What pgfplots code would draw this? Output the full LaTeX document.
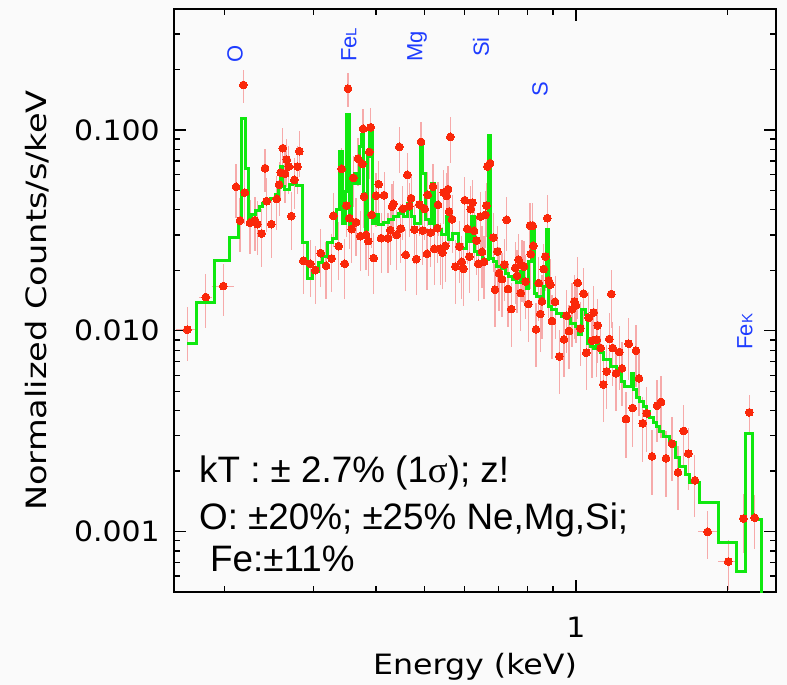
\documentclass[border=0pt]{standalone}
\usepackage{graphicx}
\usepackage{pgfplots}
\usepackage{pgfplotstable}
\pgfplotsset{compat=1.18}
\usepackage{fontspec}
\setmainfont{Liberation Sans}
\newfontfamily\dejavu{DejaVu Sans}
\newfontfamily\libserif{Liberation Serif}
\definecolor{bg}{RGB}{250,250,250}
\definecolor{datared}{RGB}{250,40,10}
\definecolor{errpink}{RGB}{246,170,170}
\definecolor{modelgreen}{RGB}{15,232,15}
\definecolor{lblue}{RGB}{30,60,255}
\newcommand{\tickfont}{\dejavu\fontsize{28pt}{32pt}\selectfont}
\newcommand{\elfont}{\fontsize{22pt}{26pt}\selectfont}
\newcommand{\elsmall}{\fontsize{15pt}{17pt}\selectfont}
\newcommand{\annfont}{\fontsize{36.8pt}{44pt}\selectfont}

\pgfplotstableread{
x y ey ex
0.1685 0.01012 0.30 0.0085
0.1834 0.01471 0.30 0.0055
0.1987 0.01669 0.29 0.0103
0.2178 0.1675 0.19 0
0.2106 0.05205 0.30 0
0.2145 0.03538 0.30 0
0.2192 0.04875 0.30 0
0.2245 0.03446 0.30 0
0.2297 0.03554 0.30 0
0.2322 0.03395 0.30 0
0.2369 0.03049 0.32 0
0.2405 0.06450 0.24 0
0.2424 0.04418 0.30 0
0.2475 0.03395 0.32 0
0.2538 0.04536 0.30 0
0.2565 0.05344 0.30 0
0.2585 0.06133 0.28 0
0.2609 0.08110 0.26 0
0.2636 0.06042 0.28 0
0.2657 0.07115 0.27 0
0.2682 0.06569 0.27 0
0.2714 0.03721 0.32 0
0.2751 0.05639 0.28 0
0.2790 0.06569 0.27 0
0.2815 0.07834 0.26 0
0.2867 0.02230 0.32 0
0.2960 0.02154 0.32 0
0.3029 0.02004 0.32 0
0.3105 0.02435 0.32 0
0.3181 0.02105 0.32 0
0.3265 0.02289 0.32 0
0.3289 0.03734 0.30 0
0.3371 0.02638 0.32 0
0.3418 0.06397 0.27 0
0.3466 0.02154 0.33 0
0.3491 0.04201 0.30 0
0.3518 0.1605 0.19 0
0.3539 0.03637 0.30 0
0.3578 0.03206 0.32 0
0.3605 0.05770 0.28 0
0.3650 0.03474 0.32 0
0.3683 0.07198 0.27 0
0.3722 0.02959 0.33 0
0.3757 0.06774 0.27 0
0.3769 0.1012 0.25 0
0.3786 0.04658 0.30 0
0.3821 0.03003 0.33 0
0.3861 0.02795 0.33 0
0.3879 0.07772 0.27 0
0.3904 0.1031 0.25 0
0.3922 0.03777 0.32 0
0.3958 0.02300 0.34 0
0.4000 0.04711 0.30 0
0.4049 0.05369 0.30 0
0.4093 0.02892 0.33 0
0.4150 0.04733 0.30 0
0.4226 0.02892 0.33 0
0.4271 0.03170 0.33 0
0.4304 0.04153 0.30 0
0.4330 0.04283 0.30 0
0.4398 0.03003 0.33 0
0.4451 0.08230 0.26 0
0.4480 0.03228 0.33 0
0.4521 0.04046 0.30 0
0.4584 0.02388 0.34 0
0.4617 0.05973 0.28 0
0.4660 0.04173 0.30 0
0.4696 0.04573 0.30 0
0.4768 0.03192 0.33 0
0.4811 0.02273 0.34 0
0.4878 0.04250 0.30 0
0.4916 0.08715 0.26 0
0.4955 0.03155 0.33 0
0.5000 0.04046 0.30 0
0.5052 0.02415 0.34 0
0.5068 0.04750 0.30 0
0.5139 0.03084 0.33 0
0.5193 0.05223 0.30 0
0.5224 0.02558 0.34 0
0.5297 0.03243 0.33 0
0.5314 0.04235 0.30 0
0.5380 0.02567 0.34 0
0.5420 0.02452 0.34 0
0.5455 0.04875 0.30 0
0.5495 0.02647 0.34 0
0.5530 0.04695 0.30 0
0.5563 0.05070 0.30 0
0.5589 0.03922 0.31 0
0.5623 0.09230 0.26 0
0.5667 0.03595 0.32 0
0.5753 0.02088 0.35 0
0.5860 0.02626 0.34 0
0.5925 0.02204 0.35 0
0.5969 0.02035 0.35 0
0.6007 0.04468 0.30 0
0.6078 0.03217 0.33 0
0.6134 0.02342 0.34 0
0.6174 0.04032 0.30 0
0.6219 0.04348 0.30 0
0.6268 0.03144 0.33 0
0.6344 0.02814 0.33 0
0.6391 0.02154 0.35 0
0.6450 0.03704 0.32 0
0.6501 0.02472 0.34 0
0.6561 0.02204 0.35 0
0.6600 0.03777 0.32 0
0.6631 0.04201 0.30 0
0.6662 0.06569 0.26 0
0.6745 0.06829 0.26 0
0.6847 0.02912 0.33 0
0.6899 0.01600 0.35 0
0.6973 0.02480 0.34 0
0.7028 0.01937 0.35 0
0.7125 0.01808 0.35 0
0.7200 0.02137 0.34 0
0.7280 0.03567 0.30 0
0.7323 0.01613 0.35 0
0.7434 0.01282 0.35 0
0.7573 0.02058 0.34 0
0.7632 0.01878 0.35 0
0.7692 0.02256 0.34 0
0.7762 0.01540 0.35 0
0.7808 0.02113 0.34 0
0.7880 0.02088 0.34 0
0.7942 0.01759 0.35 0
0.8037 0.01358 0.35 0
0.8100 0.03341 0.30 0
0.8200 0.03330 0.30 0
0.8126 0.02407 0.33 0
0.8224 0.02647 0.33 0
0.8326 0.01015 0.35 0
0.8432 0.01727 0.35 0
0.8493 0.01211 0.35 0
0.8557 0.01399 0.35 0
0.8625 0.02028 0.34 0
0.8688 0.02342 0.33 0
0.8767 0.03637 0.30 0
0.8824 0.01779 0.35 0
0.8889 0.01694 0.35 0
0.8959 0.01118 0.35 0
0.9084 0.01394 0.35 0
0.9264 0.007451 0.35 0
0.9465 0.009052 0.35 0
0.9583 0.01188 0.35 0
0.9685 0.009966 0.35 0
0.9818 0.01276 0.35 0
0.9922 0.01399 0.35 0
1.0000 0.01336 0.35 0
1.0078 0.01733 0.34 0
1.0199 0.01027 0.35 0
1.0359 0.01528 0.34 0
1.0483 0.007773 0.35 0
1.0599 0.01161 0.35 0
1.0760 0.008917 0.35 0
1.0844 0.01233 0.35 0
1.0996 0.009020 0.35 0
1.1046 0.01063 0.35 0
1.1198 0.008203 0.35 0
1.1334 0.005405 0.35 0
1.1510 0.006273 0.35 0
1.1650 0.009094 0.34 0
1.1755 0.01523 0.32 0
1.1831 0.008203 0.35 0
1.2011 0.006131 0.35 0
1.2196 0.007834 0.35 0
1.2346 0.006492 0.35 0
1.2575 0.003637 0.36 0
1.2731 0.008617 0.34 0
1.2965 0.004124 0.36 0
1.3163 0.007954 0.34 0
1.3345 0.005790 0.35 0
1.3573 0.003458 0.36 0
1.3825 0.003878 0.36 0
1.4165 0.002369 0.36 0
1.4495 0.004235 0.34 0
1.4762 0.004418 0.34 0
1.5105 0.002316 0.36 0
1.5524 0.002740 0.35 0
1.5956 0.001972 0.35 0
1.6379 0.003170 0.34 0
1.6727 0.002444 0.34 0
1.7246 0.001799 0.34 0
1.8281 0.0009966 0.27 0.08
2.0091 0.0007091 0.28 0.09
2.1524 0.001161 0.33 0
2.2122 0.003922 0.22 0
2.2681 0.001171 0.30 0
}\spectrum

\pgfplotstableread{
x y
0.1685 0.008687
0.1759 0.01383
0.1910 0.02230
0.2046 0.02912
0.2126 0.03595
0.2158 0.1143
0.2195 0.06397
0.2226 0.03595
0.2259 0.03777
0.2305 0.03968
0.2340 0.04153
0.2375 0.04318
0.2413 0.04520
0.2469 0.04573
0.2526 0.04750
0.2553 0.05163
0.2577 0.06569
0.2604 0.05223
0.2633 0.05029
0.2685 0.05325
0.2726 0.05429
0.2781 0.05265
0.2853 0.02750
0.2920 0.01829
0.2988 0.01972
0.3067 0.02197
0.3128 0.02342
0.3200 0.02750
0.3274 0.02892
0.3330 0.03999
0.3381 0.07798
0.3423 0.03434
0.3471 0.04932
0.3498 0.1188
0.3539 0.03303
0.3572 0.05429
0.3617 0.06091
0.3662 0.05429
0.3706 0.08258
0.3735 0.09443
0.3775 0.04841
0.3810 0.03181
0.3840 0.07366
0.3879 0.1020
0.3933 0.03434
0.3982 0.03777
0.4042 0.03368
0.4136 0.03458
0.4231 0.03567
0.4330 0.03704
0.4430 0.03821
0.4533 0.03704
0.4617 0.04318
0.4711 0.03704
0.4761 0.03434
0.4894 0.08746
0.4955 0.06091
0.5007 0.03567
0.5100 0.03434
0.5164 0.05429
0.5218 0.03303
0.5297 0.03181
0.5405 0.03003
0.5512 0.03704
0.5581 0.02836
0.5684 0.03063
0.5833 0.02678
0.5925 0.02578
0.6062 0.03119
0.6134 0.02782
0.6202 0.03704
0.6268 0.02480
0.6362 0.02388
0.6522 0.02273
0.6693 0.09335
0.6745 0.02300
0.6847 0.02212
0.6954 0.02088
0.7116 0.02051
0.7224 0.01937
0.7334 0.01863
0.7484 0.01794
0.7622 0.01739
0.7762 0.01972
0.7880 0.01727
0.7978 0.01631
0.8037 0.02212
0.8137 0.03181
0.8249 0.01540
0.8352 0.01481
0.8481 0.01426
0.8609 0.01661
0.8716 0.03181
0.8808 0.01321
0.8948 0.01272
0.9154 0.01225
0.9365 0.01178
0.9583 0.01147
0.9730 0.01092
0.9954 0.01050
1.0106 0.009552
1.0264 0.01272
1.0421 0.01201
1.0531 0.008687
1.0663 0.008355
1.0824 0.008203
1.0959 0.009199
1.1076 0.008046
1.1198 0.007748
1.1334 0.007172
1.1686 0.006643
1.2050 0.006160
1.2329 0.005594
1.2477 0.005248
1.2865 0.006111
1.3002 0.005088
1.3207 0.004626
1.3406 0.004449
1.3611 0.004201
1.3825 0.003968
1.4034 0.003679
1.4249 0.003474
1.4474 0.003341
1.4693 0.003155
1.4918 0.002980
1.5333 0.002762
1.5740 0.002326
1.6103 0.002113
1.6478 0.001921
1.6859 0.001747
1.7650 0.001389
1.9192 0.0008845
2.0876 0.0006346
2.1693 0.003074
2.2430 0.001147
2.3342 0.0001
}\model

\begin{document}
\begin{tikzpicture}
\path[use as bounding box, fill=bg] (-174pt,-93pt) rectangle (613pt,592pt);
\begin{axis}[
  at={(0pt,0pt)}, anchor=south west,
  scale only axis, width=602pt, height=583pt,
  xmode=log, ymode=log,
  xmin=0.1585, xmax=2.5, ymin=5e-4, ymax=0.4,
  axis line style={black, line width=1.6pt},
  every tick/.style={black, line width=1.3pt},
  major tick length=12pt, minor tick length=6pt,
  tick align=inside, xtick pos=both, ytick pos=both,
  xtick={1}, xticklabels={\scalebox{1.07}[1]{1}},
  minor xtick={0.2,0.3,0.4,0.5,0.6,0.7,0.8,0.9,2},
  ytick={0.001,0.01,0.1},
  yticklabels={\scalebox{1.07}[1]{0.001},\scalebox{1.07}[1]{0.010},\scalebox{1.07}[1]{0.100}},
  minor ytick={0.0006,0.0007,0.0008,0.0009,0.002,0.003,0.004,0.005,0.006,0.007,0.008,0.009,0.02,0.03,0.04,0.05,0.06,0.07,0.08,0.09,0.2,0.3},
  xticklabel style={font=\tickfont, anchor=base, inner sep=0pt, yshift=-45pt},
  yticklabel style={font=\tickfont, anchor=east, inner sep=0pt, xshift=-14pt},
  xlabel={\scalebox{1.13}[1]{Energy (keV)}},
  ylabel={\scalebox{1.2}[1]{Normalized Counts/s/keV}},
  xlabel style={font=\tickfont, at={(axis description cs:0.5,-0.1407)}, anchor=base, inner sep=0pt},
  ylabel style={font=\tickfont, at={(axis description cs:-0.211,0.5)}, anchor=base, inner sep=0pt},
  clip=true,
]
\addplot[only marks, mark=*, mark size=3.9pt,
  mark options={fill=datared, draw=datared, line width=0pt},
  error bars/.cd, y dir=both, y explicit relative, x dir=both, x explicit,
  error mark=none, error bar style={errpink, line width=1.1pt}]
  table[x=x, y=y, y error=ey, x error=ex] {\spectrum};
\addplot[const plot mark left, draw=modelgreen, line width=3pt, mark=none]
  table[x=x, y=y] {\model};

\node[lblue, font=\elfont, rotate=90, anchor=west, inner sep=0pt] at (axis cs:0.2097,0.2154) {O};
\node[lblue, font=\elfont, rotate=90, anchor=west, inner sep=0pt] at (axis cs:0.3534,0.2180) {Fe{\elsmall L}};
\node[lblue, font=\elfont, rotate=90, anchor=west, inner sep=0pt] at (axis cs:0.4827,0.2180) {Mg};
\node[lblue, font=\elfont, rotate=90, anchor=west, inner sep=0pt] at (axis cs:0.6471,0.2308) {Si};
\node[lblue, font=\elfont, rotate=90, anchor=west, inner sep=0pt] at (axis cs:0.8481,0.1460) {S};
\node[lblue, font=\elfont, rotate=90, anchor=west, inner sep=0pt] at (axis cs:2.169,0.008046) {Fe{\elsmall K}};

\node[font=\annfont, anchor=base west, inner sep=0pt] at (rel axis cs:0.0415,0.1875) {kT : ± 2.7\% (1{\libserif σ}); z!};
\node[font=\annfont, anchor=base west, inner sep=0pt] at (rel axis cs:0.0415,0.1075) {O: ±20\%; ±25\% Ne,Mg,Si;};
\node[font=\annfont, anchor=base west, inner sep=0pt] at (rel axis cs:0.0598,0.0348) {Fe:±11\%};
\end{axis}
\end{tikzpicture}
\end{document}
